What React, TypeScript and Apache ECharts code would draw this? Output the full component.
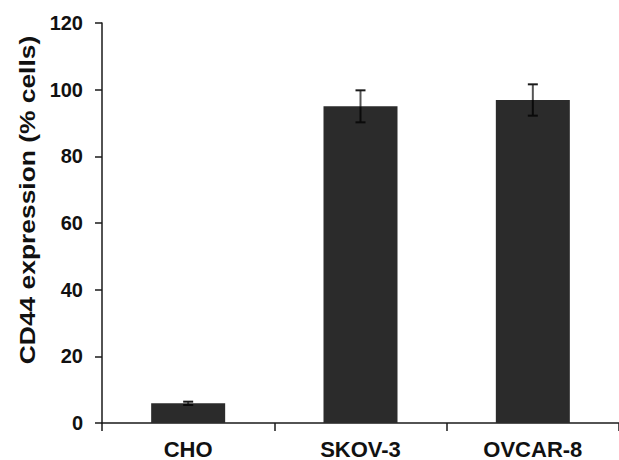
import React, { useEffect, useRef } from "react";
import * as echarts from "echarts";

const categories = ["CHO", "SKOV-3", "OVCAR-8"];
const values = [5.9, 95.0, 96.9];
const errors = [0.5, 4.8, 4.7];
const yTicks = { min: 0, max: 120, interval: 20 };
const yTitle = "CD44 expression (% cells)";

export default function App() {
  const ref = useRef<HTMLDivElement>(null);
  useEffect(() => {
    if (!ref.current) return;
    const chart = echarts.init(ref.current, null, { renderer: "svg" });
    const font = "'Liberation Sans', Arial, sans-serif";
    chart.setOption({
      animation: false,
      backgroundColor: "#ffffff",
      grid: { left: 102, top: 23, width: 522, height: 400 },
      xAxis: {
        type: "category",
        data: categories,
        axisLine: { show: true, lineStyle: { color: "#1a1a1a", width: 1.5 } },
        axisTick: { show: true, length: 8, alignWithLabel: false, lineStyle: { color: "#1a1a1a", width: 1.5 } },
        axisLabel: { color: "#111", fontSize: 22, fontWeight: "bold", fontFamily: font, margin: 15 },
        splitLine: { show: false },
      },
      yAxis: {
        type: "value",
        min: yTicks.min,
        max: yTicks.max,
        interval: yTicks.interval,
        axisLine: { show: true, lineStyle: { color: "#1a1a1a", width: 1.5 } },
        axisTick: { show: true, length: 7, lineStyle: { color: "#1a1a1a", width: 1.5 } },
        axisLabel: { color: "#111", fontSize: 20, fontWeight: "bold", fontFamily: font, margin: 19 },
        splitLine: { show: false },
      },
      graphic: [
        {
          type: "text",
          x: 27,
          y: 200,
          rotation: Math.PI / 2,
          scaleX: 1.2,
          style: {
            text: yTitle,
            fontSize: 22,
            fontWeight: "bold",
            fontFamily: font,
            fill: "#111",
            textAlign: "center",
            textVerticalAlign: "middle",
          },
        },
      ],
      series: [
        {
          type: "bar",
          data: values,
          barWidth: 74,
          itemStyle: { color: "#2b2b2b" },
          z: 2,
        },
        {
          type: "custom",
          z: 3,
          data: values.map((v, i) => [i, v - errors[i], v + errors[i], v]),
          renderItem: (params: any, api: any) => {
            const idx = api.value(0);
            const lo = api.coord([idx, api.value(1)]);
            const hi = api.coord([idx, api.value(2)]);
            const mid = api.coord([idx, api.value(3)]);
            const half = 5;
            const capStyle = { stroke: "#1a1a1a", lineWidth: 2 };
            return {
              type: "group",
              children: [
                { type: "line", shape: { x1: mid[0], y1: mid[1], x2: hi[0], y2: hi[1] }, style: { stroke: "#555", lineWidth: 2 } },
                { type: "line", shape: { x1: lo[0], y1: lo[1], x2: mid[0], y2: mid[1] }, style: { stroke: "#0a0a0a", lineWidth: 2 } },
                { type: "line", shape: { x1: hi[0] - half, y1: hi[1], x2: hi[0] + half, y2: hi[1] }, style: capStyle },
                { type: "line", shape: { x1: lo[0] - half, y1: lo[1], x2: lo[0] + half, y2: lo[1] }, style: { stroke: "#0a0a0a", lineWidth: 2 } },
              ],
            };
          },
        },
      ],
    });
    return () => chart.dispose();
  }, []);
  return (
    <div
      ref={ref}
      style={{ position: "fixed", left: 0, top: 0, width: 619, height: 460 }}
    />
  );
}
